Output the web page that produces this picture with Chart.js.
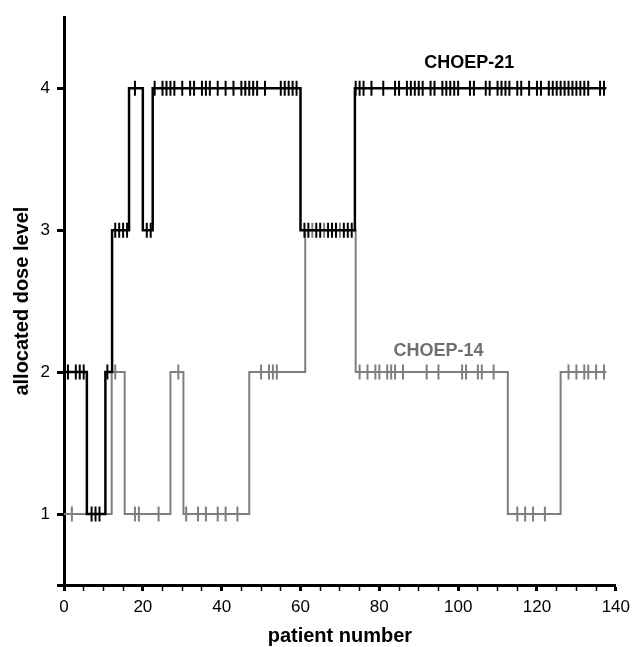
<!DOCTYPE html>
<html>
<head>
<meta charset="utf-8">
<script src="https://cdn.jsdelivr.net/npm/chart.js@4"></script>
<style>
  html, body { margin: 0; padding: 0; background: #fff; }
</style>
</head>
<body>
<canvas id="doseChart" width="636" height="647"></canvas>
<script>
// 系列名
const seriesNames = ['CHOEP-21', 'CHOEP-14'];

// CHOEP-21: 用量レベルが変わる位置 (患者番号) とそのレベル
const choep21StepStart = [0, 5.8, 10.5, 12.2, 16.5, 20.0, 22.5, 60.0, 73.8, 137.6];
const choep21StepLevel = [2, 1, 2, 3, 4, 3, 4, 3, 4, 4];
// CHOEP-21: 患者番号
const choep21Patients = [1, 3, 4, 5, 7, 8, 9, 11, 13, 14, 15, 16, 18, 21, 22, 23, 25, 26, 27, 28,
    30, 32, 33, 35, 36, 37, 39, 41, 43, 45, 46, 47, 48, 49, 51, 55, 56, 57, 58, 59,
    61, 62, 64, 65, 67, 68, 69, 71, 72, 73, 74, 75, 76, 78, 81, 84, 85, 87, 88, 89,
    90, 91, 93, 94, 96, 97, 98, 99, 100, 103, 104, 107, 108, 110, 111, 112, 113, 115, 116, 118,
    120, 121, 123, 124, 125, 126, 127, 128, 129, 130, 131, 132, 133, 136, 137];

// CHOEP-14
const choep14StepStart = [0, 12.1, 15.4, 27.0, 30.3, 47.0, 61.2, 74.0, 112.6, 126.0, 137.6];
const choep14StepLevel = [1, 2, 1, 2, 1, 2, 3, 2, 1, 2, 2];
const choep14Patients = [2, 13, 18, 19, 24, 29, 31, 34, 36, 39, 41, 44, 50, 52, 53, 54,
    63, 66, 70, 75, 77, 79, 80, 82, 83, 84, 86, 92, 95, 101, 102, 105, 106, 109,
    115, 117, 119, 122, 128, 130, 132, 133, 135, 137];

// 軸の目盛り
const xTickValues = [0, 20, 40, 60, 80, 100, 120, 140];
const yTickValues = [0.5, 1, 2, 3, 4];

const FONT = '"Liberation Sans", Arial, sans-serif';
const BLACK = '#000000';
const GRAY = '#7f7f7f';

/**
 * 患者番号の時点のレベルを階段データから求める
 */
function levelAt(stepStart, stepLevel, patient) {
    let level = stepLevel[0];
    for (let i = 0; i < stepStart.length; i++) {
        if (stepStart[i] <= patient) level = stepLevel[i];
    }
    return level;
}

function stepPoints(stepStart, stepLevel) {
    return stepStart.map((x, i) => ({ x: x, y: stepLevel[i] }));
}

function patientPoints(patients, stepStart, stepLevel) {
    return patients.map(p => ({ x: p, y: levelAt(stepStart, stepLevel, p) }));
}

// 系列ラベル
const seriesLabelPlugin = {
    id: 'seriesLabels',
    afterDatasetsDraw(chart, args, opts) {
        const { ctx, scales: { x, y } } = chart;
        ctx.save();
        ctx.font = 'bold 18px ' + FONT;
        ctx.textAlign = 'center';
        ctx.textBaseline = 'middle';
        opts.items.forEach(item => {
            ctx.fillStyle = item.color;
            ctx.fillText(item.text, x.getPixelForValue(item.x), y.getPixelForValue(item.y));
        });
        ctx.restore();
    }
};

function tickDataset(data, color, order) {
    return {
        type: 'line',
        data: data,
        showLine: false,
        pointStyle: 'line',
        pointRotation: 90,
        pointRadius: 7.5,
        pointBorderWidth: 2,
        pointBorderColor: color,
        pointBackgroundColor: color,
        borderColor: color,
        order: order
    };
}

function stepDataset(data, color, width, order) {
    return {
        type: 'line',
        data: data,
        stepped: 'before',
        borderColor: color,
        borderWidth: width,
        pointRadius: 0,
        fill: false,
        order: order
    };
}

function createDoseChart() {
    const ctx = document.getElementById('doseChart').getContext('2d');
    new Chart(ctx, {
        type: 'line',
        data: {
            datasets: [
                tickDataset(patientPoints(choep21Patients, choep21StepStart, choep21StepLevel), BLACK, 0),
                stepDataset(stepPoints(choep21StepStart, choep21StepLevel), BLACK, 2.5, 1),
                tickDataset(patientPoints(choep14Patients, choep14StepStart, choep14StepLevel), GRAY, 2),
                stepDataset(stepPoints(choep14StepStart, choep14StepLevel), GRAY, 2, 3)
            ]
        },
        options: {
            responsive: false,
            animation: false,
            events: [],
            layout: { padding: { left: 0, right: 18, top: 15, bottom: 0 } },
            plugins: {
                legend: { display: false },
                tooltip: { enabled: false },
                seriesLabels: {
                    items: [
                        { text: seriesNames[0], x: 102.8, y: 4.18, color: BLACK },
                        { text: seriesNames[1], x: 95, y: 2.15, color: '#707070' }
                    ]
                }
            },
            scales: {
                x: {
                    type: 'linear',
                    min: 0,
                    max: 140,
                    afterFit: scale => { scale.height = 62; },
                    ticks: {
                        stepSize: 5,
                        autoSkip: false,
                        maxRotation: 0,
                        padding: 6,
                        color: '#000',
                        font: { family: FONT, size: 17 },
                        callback: v => (xTickValues.includes(v) ? v : '')
                    },
                    grid: {
                        drawOnChartArea: false,
                        drawTicks: true,
                        tickLength: 6,
                        tickColor: '#000',
                        tickWidth: c => (xTickValues.includes(c.tick.value) ? 3 : 1.5)
                    },
                    border: { display: true, color: '#000', width: 3 },
                    title: {
                        display: true,
                        text: 'patient number',
                        color: '#000',
                        font: { family: FONT, size: 20, weight: 'bold', lineHeight: 1.1 },
                        padding: { top: 0, bottom: 0 }
                    }
                },
                y: {
                    type: 'linear',
                    min: 0.5,
                    max: 4.5,
                    afterBuildTicks: scale => {
                        scale.ticks = yTickValues.map(v => ({ value: v }));
                    },
                    afterFit: scale => { scale.width = 64; },
                    ticks: {
                        padding: 7,
                        color: '#000',
                        font: { family: FONT, size: 17 },
                        callback: v => (Number.isInteger(v) ? v : '')
                    },
                    grid: {
                        drawOnChartArea: false,
                        drawTicks: true,
                        tickLength: 7,
                        tickColor: '#000',
                        tickWidth: 3
                    },
                    border: { display: true, color: '#000', width: 3 },
                    title: {
                        display: true,
                        text: 'allocated dose level',
                        color: '#000',
                        font: { family: FONT, size: 20, weight: 'bold' },
                        padding: { top: 10, bottom: 0 }
                    }
                }
            }
        },
        plugins: [seriesLabelPlugin]
    });
}

createDoseChart();
</script>
</body>
</html>
